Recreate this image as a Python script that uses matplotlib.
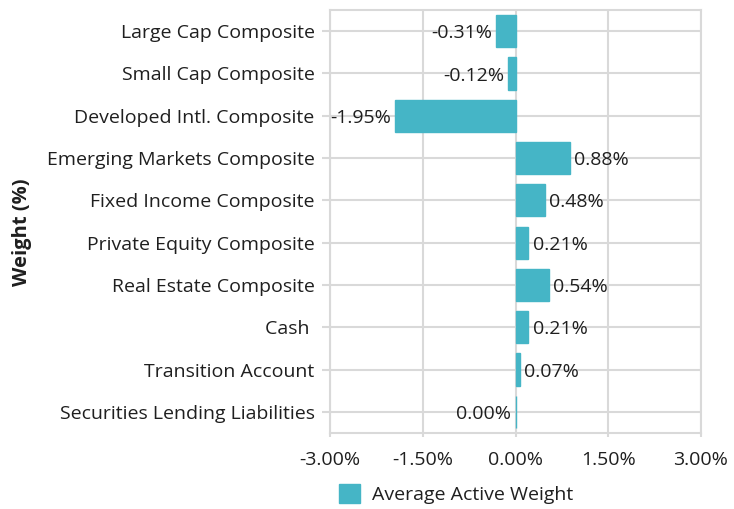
import matplotlib
matplotlib.use('Agg')
import matplotlib.pyplot as plt
from matplotlib.patches import Patch

categories = [
    'Large Cap Composite',
    'Small Cap Composite',
    'Developed Intl. Composite',
    'Emerging Markets Composite',
    'Fixed Income Composite',
    'Private Equity Composite',
    'Real Estate Composite',
    'Cash ',
    'Transition Account',
    'Securities Lending Liabilities',
]
active_weight = [-0.31, -0.12, -1.95, 0.88, 0.48, 0.21, 0.54, 0.21, 0.07, 0.00]
x_ticks = [-3.0, -1.5, 0.0, 1.5, 3.0]

bar_color = '#45B5C6'
grid_color = '#D9D9D9'
text_color = '#1F1F1F'
fs = 14

plt.rcParams['font.family'] = ['Open Sans', 'DejaVu Sans']
plt.rcParams['font.size'] = fs

fig = plt.figure(figsize=(7.34, 5.09), dpi=100)
ax = fig.add_axes([330 / 734, 1 - 433 / 509, 371 / 734, 423 / 509])

ypos = list(range(len(categories)))
ax.barh(ypos, active_weight, height=0.76, color=bar_color,
        edgecolor=bar_color, linewidth=1, zorder=3)

for y, v in zip(ypos, active_weight):
    label = f'{v:.2f}%'
    if v > 0:
        ax.annotate(label, (v, y), xytext=(3, -1.5), textcoords='offset points',
                    ha='left', va='center', color=text_color, fontsize=fs)
    else:
        ax.annotate(label, (v, y), xytext=(-3, -1.5), textcoords='offset points',
                    ha='right', va='center', color=text_color, fontsize=fs)

ax.set_xlim(-3, 3)
ax.set_ylim(len(categories) - 0.5, -0.5)
ax.set_xticks(x_ticks)
ax.set_xticklabels([f'{t:.2f}%' for t in x_ticks])
ax.set_yticks(ypos)
ax.set_yticklabels(categories)

ax.grid(True, color=grid_color, linewidth=1.5, zorder=0)
for s in ax.spines.values():
    s.set_color(grid_color)
    s.set_linewidth(1.5)
ax.tick_params(axis='y', length=6, width=1.5, color=grid_color, pad=5, labelcolor=text_color)
ax.tick_params(axis='x', length=3, width=1.5, color=grid_color, pad=10, labelcolor=text_color)

fig.text(22 / 734, 1 - 232 / 509, 'Weight (%)', rotation=90, ha='center', va='center',
         fontweight='bold', fontsize=14.5, color=text_color)

fig.legend(handles=[Patch(color=bar_color, label='Average Active Weight')],
           loc='center left', bbox_to_anchor=(321 / 734, 1 - 494 / 509), frameon=False,
           handlelength=1.1, handleheight=1.1, handletextpad=0.6, fontsize=fs,
           labelcolor=text_color)

fig.savefig('out.png', dpi=100)
